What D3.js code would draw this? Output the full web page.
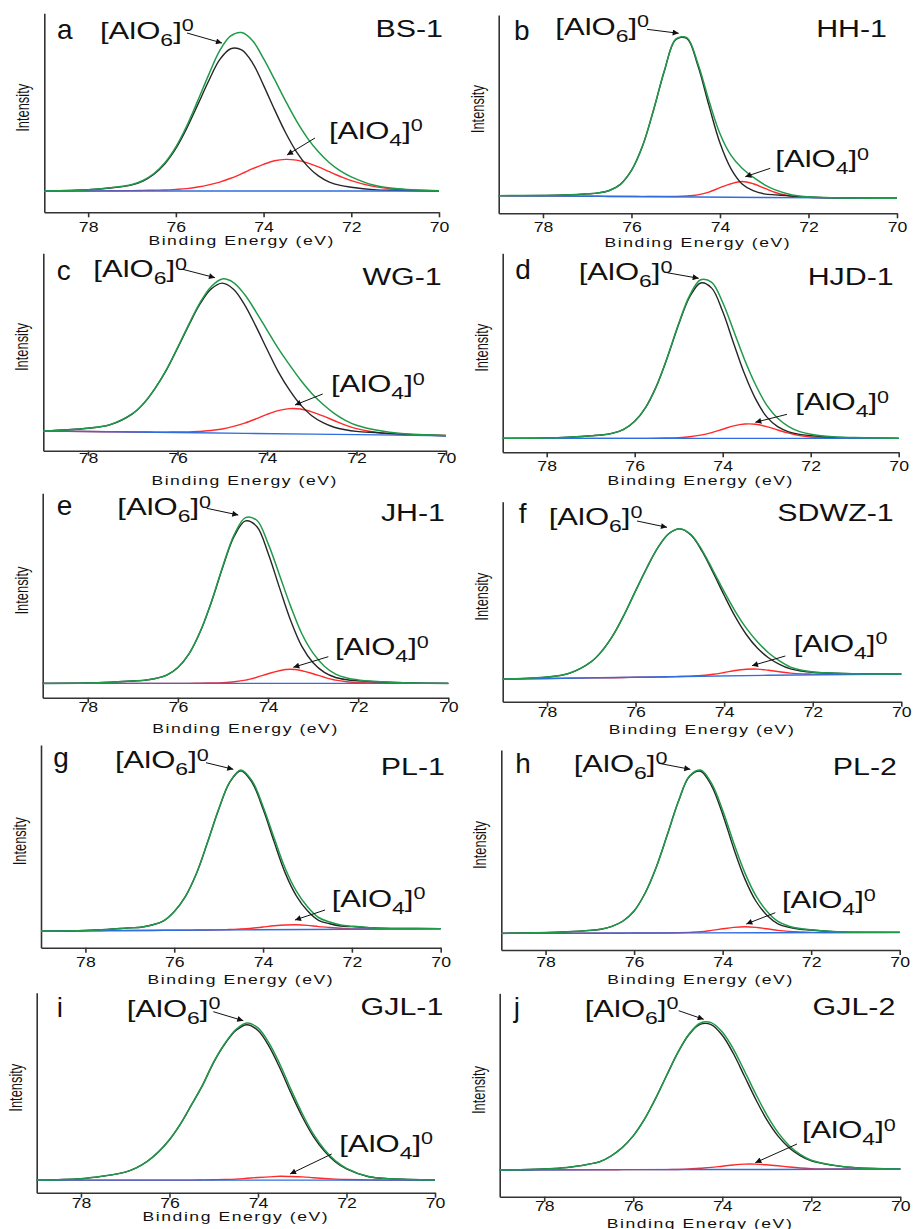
<!DOCTYPE html>
<html>
<head>
<meta charset="utf-8">
<script src="https://cdn.jsdelivr.net/npm/d3@7"></script>
<style>
  body { margin: 0; background: #fff; }
  svg text { font-family: "Liberation Sans", Arial, sans-serif; fill: #111; }
</style>
</head>
<body>
<div id="chart"></div>
<script>
// binding energy grid (eV) the fitted curves were read at
var energy = [79, 78, 77.5, 77, 76.75, 76.5, 76.25, 76, 75.75, 75.5, 75.25, 75, 74.75, 74.5, 74.25, 74, 73.75, 73.5, 73.25, 73, 72.75, 72.5, 72.25, 72, 71.5, 71, 70];
var backgroundEnergy = [79, 76, 73, 70];
var xTicks = [78, 76, 74, 72, 70];

var sampleNames = ["BS-1", "HH-1", "WG-1", "HJD-1", "JH-1", "SDWZ-1", "PL-1", "PL-2", "GJL-1", "GJL-2"];
var panelLetters = ["a", "b", "c", "d", "e", "f", "g", "h", "i", "j"];

// intensity in % of panel height
var bs1Envelope = [10.7, 11.3, 12.3, 14.0, 16.0, 19.5, 24.9, 32.9, 43.5, 56.1, 69.2, 81.2, 88.6, 90.3, 86.2, 77.2, 66.8, 56.0, 45.9, 37.3, 30.4, 24.9, 20.8, 17.8, 13.7, 11.9, 10.8];
var bs1AlO6 = [10.7, 11.3, 12.2, 13.8, 15.7, 19.1, 24.4, 32.1, 42.3, 54.1, 66.1, 76.7, 82.2, 81.6, 75.0, 63.8, 51.6, 40.1, 30.4, 23.2, 18.3, 15.2, 13.5, 12.6, 11.4, 11.0, 10.7];
var bs1AlO4 = [10.7, 10.7, 10.8, 10.9, 11.0, 11.1, 11.2, 11.5, 11.9, 12.7, 13.8, 15.2, 17.1, 19.4, 21.9, 24.1, 25.9, 26.6, 26.2, 24.8, 22.8, 20.4, 18.0, 15.9, 13.0, 11.6, 10.8];
var bs1Background = [10.7, 10.7, 10.7, 10.7];

var hh1Envelope = [8.9, 9.0, 9.2, 9.8, 10.3, 11.5, 14.6, 21.6, 33.9, 52.2, 72.4, 87.8, 88.6, 75.6, 56.9, 40.1, 29.2, 22.7, 18.2, 14.5, 11.8, 10.0, 8.8, 8.3, 7.8, 7.7, 7.6];
var hh1AlO6 = [8.9, 9.0, 9.2, 9.8, 10.3, 11.5, 14.6, 21.6, 33.9, 52.1, 72.3, 87.6, 88.2, 74.5, 54.4, 35.4, 22.4, 14.8, 11.4, 9.8, 9.3, 8.9, 8.4, 8.1, 7.8, 7.7, 7.6];
var hh1AlO4 = [8.9, 8.8, 8.7, 8.6, 8.6, 8.5, 8.5, 8.5, 8.4, 8.5, 8.5, 8.5, 8.7, 9.3, 10.7, 12.9, 14.9, 16.0, 14.9, 12.7, 10.5, 9.1, 8.3, 8.1, 7.8, 7.7, 7.6];
var hh1Background = [8.9, 8.5, 8.0, 7.6];

var wg1Envelope = [10.0, 11.4, 13.3, 18.9, 24.2, 31.7, 41.0, 52.2, 63.9, 74.9, 83.1, 87.0, 85.2, 79.1, 70.5, 61.1, 51.8, 43.6, 35.8, 29.0, 23.5, 18.9, 15.4, 12.9, 10.2, 8.7, 7.7];
var wg1AlO6 = [10.0, 11.4, 13.2, 18.8, 24.1, 31.6, 40.8, 51.9, 63.5, 74.2, 81.9, 84.9, 81.8, 73.9, 63.1, 51.4, 40.1, 30.8, 23.2, 17.7, 14.2, 11.9, 10.6, 9.8, 9.1, 8.3, 7.6];
var wg1AlO4 = [10.0, 9.7, 9.6, 9.5, 9.5, 9.4, 9.4, 9.5, 9.5, 9.8, 10.2, 11.0, 12.3, 14.0, 16.1, 18.4, 20.3, 21.3, 21.1, 19.7, 17.6, 15.3, 13.0, 11.2, 9.1, 8.3, 7.7];
var wg1Background = [10.0, 9.2, 8.4, 7.6];

var hjd1Envelope = [7.0, 7.2, 7.6, 8.3, 8.7, 9.6, 11.5, 15.6, 22.6, 33.6, 48.3, 64.7, 78.9, 86.7, 85.4, 75.3, 61.0, 46.4, 33.8, 23.7, 17.1, 12.9, 10.4, 9.1, 7.8, 7.4, 7.0];
var hjd1AlO6 = [7.0, 7.2, 7.6, 8.3, 8.7, 9.6, 11.5, 15.6, 22.6, 33.5, 48.1, 64.3, 78.1, 85.1, 82.5, 70.7, 54.7, 39.2, 26.7, 17.8, 12.9, 10.3, 9.0, 8.4, 7.6, 7.3, 7.0];
var hjd1AlO4 = [7.0, 7.0, 7.0, 7.0, 7.0, 7.0, 7.0, 7.0, 7.0, 7.1, 7.2, 7.4, 7.8, 8.6, 9.9, 11.6, 13.3, 14.2, 14.1, 12.9, 11.2, 9.6, 8.4, 7.7, 7.2, 7.1, 7.0];
var hjd1Background = [7.0, 7.0, 7.0, 7.0];

var jh1Envelope = [7.0, 7.2, 7.6, 8.2, 8.5, 9.4, 11.0, 14.8, 21.6, 32.6, 47.4, 64.6, 79.8, 88.1, 86.8, 75.5, 60.3, 44.8, 31.3, 21.8, 15.4, 11.5, 9.6, 8.7, 7.8, 7.3, 7.0];
var jh1AlO6 = [7.0, 7.2, 7.6, 8.2, 8.5, 9.4, 11.0, 14.8, 21.6, 32.5, 47.2, 64.2, 79.0, 86.5, 83.8, 70.8, 54.1, 37.9, 25.1, 17.1, 12.4, 9.9, 8.8, 8.3, 7.7, 7.3, 7.0];
var jh1AlO4 = [7.0, 7.0, 7.0, 7.0, 7.0, 7.0, 7.0, 7.0, 7.0, 7.1, 7.2, 7.4, 7.8, 8.6, 10.0, 11.7, 13.2, 13.9, 13.2, 11.7, 10.0, 8.6, 7.8, 7.4, 7.1, 7.0, 7.0];
var jh1Background = [7.0, 7.0, 7.0, 7.0];

var sdwz1Envelope = [11.3, 12.3, 14.2, 20.0, 25.6, 33.5, 43.8, 55.4, 66.7, 76.9, 84.0, 86.5, 83.6, 75.8, 65.6, 55.0, 45.2, 36.8, 30.0, 24.5, 20.4, 17.3, 15.7, 14.9, 14.2, 14.0, 13.8];
var sdwz1AlO6 = [11.3, 12.3, 14.2, 20.0, 25.6, 33.5, 43.8, 55.4, 66.7, 76.9, 84.0, 86.4, 83.3, 75.3, 64.6, 53.2, 42.5, 33.6, 26.8, 22.0, 18.7, 16.4, 15.3, 14.7, 14.2, 14.0, 13.8];
var sdwz1AlO4 = [11.3, 11.6, 11.7, 11.9, 11.9, 12.0, 12.1, 12.2, 12.2, 12.3, 12.4, 12.6, 12.8, 13.1, 13.7, 14.6, 15.6, 16.2, 16.3, 15.7, 15.0, 14.3, 13.9, 13.8, 13.7, 13.8, 13.8];
var sdwz1Background = [11.3, 12.2, 13.2, 13.8];

var pl1Envelope = [8.2, 8.5, 9.0, 9.8, 10.1, 11.2, 13.1, 17.8, 25.2, 36.6, 52.0, 68.3, 81.8, 87.7, 82.4, 69.7, 54.1, 39.1, 27.9, 20.2, 14.9, 12.7, 11.2, 10.6, 9.7, 9.5, 9.4];
var pl1AlO6 = [8.2, 8.5, 9.0, 9.8, 10.1, 11.2, 13.1, 17.8, 25.2, 36.6, 52.0, 68.2, 81.6, 87.3, 81.6, 68.4, 52.2, 36.8, 25.6, 18.2, 13.5, 11.8, 10.7, 10.4, 9.7, 9.5, 9.4];
var pl1AlO4 = [8.2, 8.3, 8.4, 8.5, 8.5, 8.5, 8.6, 8.6, 8.6, 8.7, 8.7, 8.8, 9.0, 9.2, 9.6, 10.2, 10.8, 11.2, 11.3, 11.0, 10.4, 10.0, 9.6, 9.3, 9.2, 9.3, 9.4];
var pl1Background = [8.2, 8.6, 9.0, 9.4];

var pl2Envelope = [8.3, 8.7, 9.1, 9.8, 10.4, 11.8, 14.5, 19.5, 28.5, 41.4, 57.6, 74.3, 87.0, 90.0, 83.3, 69.9, 53.5, 38.7, 27.2, 19.4, 14.3, 11.9, 10.7, 10.1, 9.2, 8.9, 8.8];
var pl2AlO6 = [8.3, 8.7, 9.1, 9.8, 10.4, 11.8, 14.5, 19.5, 28.5, 41.4, 57.6, 74.2, 86.7, 89.4, 82.1, 67.9, 50.8, 35.7, 24.5, 17.4, 13.1, 11.3, 10.4, 10.0, 9.2, 8.9, 8.8];
var pl2AlO4 = [8.3, 8.4, 8.4, 8.4, 8.4, 8.4, 8.4, 8.5, 8.5, 8.5, 8.5, 8.6, 8.8, 9.1, 9.8, 10.6, 11.3, 11.6, 11.3, 10.6, 9.8, 9.3, 9.0, 8.8, 8.7, 8.7, 8.8];
var pl2Background = [8.3, 8.5, 8.6, 8.8];

var gjl1Envelope = [6.3, 7.0, 8.3, 10.3, 12.4, 15.7, 20.4, 26.5, 34.4, 44.0, 53.9, 65.4, 74.6, 81.6, 84.9, 82.4, 74.8, 64.0, 51.4, 39.6, 29.4, 21.6, 15.9, 12.2, 8.1, 7.0, 6.4];
var gjl1AlO6 = [6.3, 7.0, 8.3, 10.3, 12.4, 15.7, 20.4, 26.5, 34.4, 44.0, 53.8, 65.2, 74.3, 81.1, 84.0, 81.1, 73.2, 62.1, 49.6, 38.0, 28.2, 20.8, 15.4, 11.9, 8.0, 7.0, 6.4];
var gjl1AlO4 = [6.3, 6.3, 6.3, 6.3, 6.3, 6.3, 6.3, 6.3, 6.3, 6.3, 6.4, 6.5, 6.6, 6.8, 7.2, 7.6, 7.9, 8.2, 8.1, 7.9, 7.5, 7.1, 6.8, 6.6, 6.4, 6.3, 6.3];
var gjl1Background = [6.3, 6.3, 6.3, 6.3];

var gjl2Envelope = [13.1, 13.6, 14.3, 16.0, 17.2, 20.0, 24.1, 29.9, 38.0, 48.2, 59.6, 70.8, 79.9, 85.3, 85.6, 81.0, 72.6, 61.8, 50.6, 40.2, 31.6, 25.2, 20.8, 17.9, 15.5, 14.2, 13.6];
var gjl2AlO6 = [13.1, 13.6, 14.3, 16.0, 17.2, 20.0, 24.1, 29.9, 38.0, 48.2, 59.6, 70.7, 79.6, 84.7, 84.6, 79.4, 70.4, 59.2, 48.0, 37.9, 29.9, 24.1, 20.2, 17.6, 15.4, 14.2, 13.6];
var gjl2AlO4 = [13.1, 13.2, 13.2, 13.2, 13.2, 13.2, 13.3, 13.3, 13.3, 13.3, 13.3, 13.4, 13.6, 14.0, 14.4, 15.0, 15.6, 16.0, 16.0, 15.7, 15.2, 14.6, 14.1, 13.8, 13.6, 13.6, 13.6];
var gjl2Background = [13.1, 13.3, 13.4, 13.6];

var envelopes = [bs1Envelope, hh1Envelope, wg1Envelope, hjd1Envelope, jh1Envelope, sdwz1Envelope, pl1Envelope, pl2Envelope, gjl1Envelope, gjl2Envelope];
var alo6Fits = [bs1AlO6, hh1AlO6, wg1AlO6, hjd1AlO6, jh1AlO6, sdwz1AlO6, pl1AlO6, pl2AlO6, gjl1AlO6, gjl2AlO6];
var alo4Fits = [bs1AlO4, hh1AlO4, wg1AlO4, hjd1AlO4, jh1AlO4, sdwz1AlO4, pl1AlO4, pl2AlO4, gjl1AlO4, gjl2AlO4];
var backgrounds = [bs1Background, hh1Background, wg1Background, hjd1Background, jh1Background, sdwz1Background, pl1Background, pl2Background, gjl1Background, gjl2Background];

////////// layout (pixels) //////////

// plot box of each panel: left, top, right, bottom
var panelBoxes = [
    [44.3, 13.3, 439, 212.3], [498.7, 15, 897, 213.3],
    [43.3, 253.3, 446, 450.7], [502.7, 253.3, 898.7, 452.3],
    [42.7, 493.3, 448.3, 697.7], [502.7, 501.7, 901.3, 701.7],
    [41, 745, 440.7, 947.7], [501.3, 750, 899.7, 950],
    [36.7, 992.7, 435, 1192.7], [499.7, 993.3, 900.3, 1196.7]
];
var tickGaps = [9, 8, 2, 8, 4, 5, 9, 7, 5, 4];
var titleDrops = [33, 34, 34, 33, 35, 32, 36, 34, 28.5, 31];

var letterSpots = [[57, 39], [514, 40], [56.7, 280], [515.3, 279.3], [56.7, 515], [518.7, 523.3], [53.3, 766.7], [515.3, 773.3], [56.7, 1016.7], [513.7, 1016.7]];
var nameSpots = [[443, 37.3], [887, 36.7], [441.7, 285], [893.7, 285], [445, 520.7], [893.7, 520.7], [445, 775], [897, 775], [443.3, 1015], [895.3, 1015]];
var alo6Spots = [[100, 38.5], [555.3, 34.5], [93.3, 277], [578.7, 280], [117.3, 515], [548.7, 525], [115, 768], [573.7, 771.7], [126.7, 1016.7], [584.7, 1016.7]];
var alo6Arrows = [[187, 33, 222, 43], [647, 29.3, 678.7, 33.3], [182.7, 269.3, 215, 277.7], [667, 272.7, 698.7, 278.3], [206.7, 508.3, 238.3, 515], [637, 521, 667, 527.3], [206, 762.7, 233.3, 769.3], [658.7, 763.3, 690.3, 769.3], [213.3, 1011.7, 243.3, 1020.7], [678.7, 1010.7, 703.7, 1019.3]];
var alo4Spots = [[329, 138.5], [775.3, 167], [331, 392], [795.3, 410], [335, 655], [793.7, 651.7], [331.7, 906.7], [782, 908], [339.3, 1151.7], [802, 1138.3]];
var alo4Arrows = [[315, 138, 287, 155], [770.3, 168.3, 745.3, 176.7], [322.7, 394, 295, 405], [787, 414.3, 755.3, 422.3], [328.3, 656.7, 293.3, 667.3], [785.3, 656, 752, 665.7], [325, 910, 295, 920], [775.3, 912.7, 746.3, 924], [331.7, 1154, 290, 1174], [797, 1144, 755.3, 1162.7]];

var green = "#1f9a48",
    black = "#262626",
    red = "#ff2b2b",
    blue = "#2f6de0",
    axisColor = "#333333";

var svg = d3.select("#chart")
    .append("svg")
    .attr("width", 914)
    .attr("height", 1229);

svg.append("defs")
    .append("marker")
    .attr("id", "head")
    .attr("viewBox", "0 0 10 10")
    .attr("refX", 10)
    .attr("refY", 5)
    .attr("markerUnits", "userSpaceOnUse")
    .attr("markerWidth", 9)
    .attr("markerHeight", 6)
    .attr("orient", "auto")
    .append("path")
    .attr("d", "M0,0L10,5L0,10z")
    .attr("fill", "#111");

function drawLabel(g, pos, sub, size) {
    var t = g.append("text")
        .attr("transform", "translate(" + pos[0] + "," + pos[1] + ") scale(1.35,1)")
        .attr("font-size", size);
    t.append("tspan").text("[AlO");
    t.append("tspan").attr("font-size", 17).attr("dy", 7).text(sub);
    t.append("tspan").attr("dy", -7).text("]");
    t.append("tspan").attr("font-size", 16).attr("dy", -7.5).text("0");
}

function drawArrow(g, a) {
    g.append("line")
        .attr("x1", a[0]).attr("y1", a[1])
        .attr("x2", a[2]).attr("y2", a[3])
        .attr("stroke", "#111")
        .attr("stroke-width", 1)
        .attr("marker-end", "url(#head)");
}

sampleNames.forEach(function(name, i) {
    var box = panelBoxes[i];
    var x = d3.scaleLinear().domain([79, 70]).range([box[0], box[2]]);
    var y = d3.scaleLinear().domain([0, 100]).range([box[3], box[1]]);
    var g = svg.append("g").attr("class", "panel");

    // axes
    var xAxis = g.append("g")
        .attr("transform", "translate(0," + box[3] + ")")
        .call(d3.axisBottom(x)
            .tickValues(xTicks)
            .tickSize(5)
            .tickSizeOuter(0)
            .tickPadding(tickGaps[i] - 5)
            .tickFormat(d3.format("d")));
    xAxis.selectAll("path, line").attr("stroke", axisColor).attr("stroke-width", 1.6);
    xAxis.selectAll("text")
        .attr("font-size", 14.5)
        .attr("font-family", "'Liberation Sans', Arial, sans-serif")
        .attr("fill", "#111")
        .attr("transform", "scale(1.22,1)");

    var yAxis = g.append("g")
        .attr("transform", "translate(" + box[0] + ",0)")
        .call(d3.axisLeft(y).tickValues([]).tickSizeOuter(0));
    yAxis.select(".domain").attr("stroke", axisColor).attr("stroke-width", 1.6);

    g.append("text")
        .attr("transform", "translate(" + ((box[0] + box[2]) / 2) + "," + (box[3] + titleDrops[i]) + ") scale(1.3,1)")
        .attr("text-anchor", "middle")
        .attr("font-size", 13.5)
        .attr("letter-spacing", 1.2)
        .text("Binding Energy (eV)");

    g.append("text")
        .attr("transform", "translate(" + (box[0] - 15) + "," + ((box[1] + box[3]) / 2 - 5) + ") rotate(-90)")
        .attr("text-anchor", "middle")
        .attr("font-size", 19)
        .attr("textLength", 48)
        .attr("lengthAdjust", "spacingAndGlyphs")
        .text("Intensity");

    // curves: components first, background over their tails, envelope on top
    var smooth = d3.line()
        .x(function(d) { return x(d[0]); })
        .y(function(d) { return y(d[1]); })
        .curve(d3.curveCatmullRom.alpha(0.5));
    var straight = d3.line()
        .x(function(d) { return x(d[0]); })
        .y(function(d) { return y(d[1]); })
        .curve(d3.curveMonotoneX);

    g.append("path")
        .datum(d3.zip(energy, alo4Fits[i]))
        .attr("d", smooth)
        .attr("fill", "none").attr("stroke", red).attr("stroke-width", 1.4);
    g.append("path")
        .datum(d3.zip(energy, alo6Fits[i]))
        .attr("d", smooth)
        .attr("fill", "none").attr("stroke", black).attr("stroke-width", 1.4);
    g.append("path")
        .datum(d3.zip(backgroundEnergy, backgrounds[i]))
        .attr("d", straight)
        .attr("fill", "none").attr("stroke", blue).attr("stroke-width", 1.4);
    g.append("path")
        .datum(d3.zip(energy, envelopes[i]))
        .attr("d", smooth)
        .attr("fill", "none").attr("stroke", green).attr("stroke-width", 1.5);

    // annotations
    g.append("text")
        .attr("x", letterSpots[i][0]).attr("y", letterSpots[i][1])
        .attr("font-size", 28)
        .text(panelLetters[i]);
    g.append("text")
        .attr("transform", "translate(" + nameSpots[i][0] + "," + nameSpots[i][1] + ") scale(1.24,1)")
        .attr("text-anchor", "end")
        .attr("font-size", 24.5)
        .text(name);

    drawLabel(g, alo6Spots[i], "6", 23);
    drawArrow(g, alo6Arrows[i]);
    drawLabel(g, alo4Spots[i], "4", 23);
    drawArrow(g, alo4Arrows[i]);
});
</script>
</body>
</html>
